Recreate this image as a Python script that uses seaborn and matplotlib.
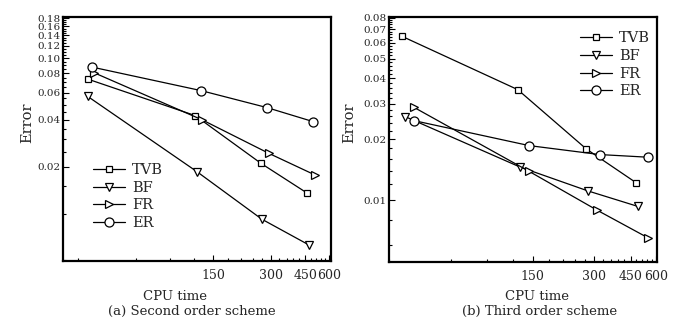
import numpy as np
import pandas as pd
import matplotlib
matplotlib.use("Agg")
import matplotlib.pyplot as plt
import seaborn as sns
from matplotlib.ticker import FixedLocator, FixedFormatter, NullFormatter

# ---- data ----
methods = ["TVB", "BF", "FR", "ER"]

# (a) second order scheme
a_tvb_x = [33.6, 121, 266, 462]
a_tvb_y = [0.0733, 0.0427, 0.0210, 0.0135]
a_bf_x = [33.6, 123.6, 268, 468]
a_bf_y = [0.0567, 0.0186, 0.0092, 0.0063]
a_fr_x = [36.1, 132, 291.5, 506]
a_fr_y = [0.0807, 0.0400, 0.0244, 0.0177]
a_er_x = [35.5, 130, 284.5, 496]
a_er_y = [0.0875, 0.0618, 0.0481, 0.0390]

# (b) third order scheme
b_tvb_x = [34.7, 127, 274, 478]
b_tvb_y = [0.0646, 0.0352, 0.0179, 0.0122]
b_bf_x = [35.9, 129.7, 279, 489]
b_bf_y = [0.0259, 0.0146, 0.0111, 0.0093]
b_fr_x = [39.6, 143.8, 310, 548]
b_fr_y = [0.0288, 0.0139, 0.0089, 0.0065]
b_er_x = [39.9, 144.5, 318, 545]
b_er_y = [0.0247, 0.0186, 0.0168, 0.0163]

x_major = [150, 300, 450, 600]
x_major_labels = ["150", "300", "450", "600"]
a_y_major = [0.02, 0.04, 0.06, 0.08, 0.10, 0.12, 0.14, 0.16, 0.18]
a_y_labels = ["0.02", "0.04", "0.06", "0.08", "0.10", "0.12", "0.14", "0.16", "0.18"]
b_y_major = [0.01, 0.02, 0.03, 0.04, 0.05, 0.06, 0.07, 0.08]
b_y_labels = ["0.01", "0.02", "0.03", "0.04", "0.05", "0.06", "0.07", "0.08"]

captions = ["(a) Second order scheme", "(b) Third order scheme"]


def build(xs, ys):
    rows = []
    for m, x, y in zip(methods, xs, ys):
        for xi, yi in zip(x, y):
            rows.append({"method": m, "cpu": xi, "err": yi})
    return pd.DataFrame(rows)


df_a = build([a_tvb_x, a_bf_x, a_fr_x, a_er_x], [a_tvb_y, a_bf_y, a_fr_y, a_er_y])
df_b = build([b_tvb_x, b_bf_x, b_fr_x, b_er_x], [b_tvb_y, b_bf_y, b_fr_y, b_er_y])

sns.set_theme(style="white")
plt.rcParams["font.family"] = ["DejaVu Serif"]
plt.rcParams["mathtext.fontset"] = "dejavuserif"

fig = plt.figure(figsize=(6.93, 3.31), dpi=100)
W, H = 693, 331
axA = fig.add_axes([63 / W, 1 - 261 / H, (331 - 63) / W, (261 - 17) / H])
axB = fig.add_axes([389 / W, 1 - 262 / H, (657 - 389) / W, (262 - 17) / H])

markers = {"TVB": "s", "BF": "v", "FR": ">", "ER": "o"}
msizes = {"TVB": 5, "BF": 5.5, "FR": 5.5, "ER": 6.5}

for ax, df in [(axA, df_a), (axB, df_b)]:
    for m in methods:
        sub = df[df.method == m]
        sns.lineplot(data=sub, x="cpu", y="err", ax=ax, color="black",
                     marker=markers[m], markersize=msizes[m],
                     markerfacecolor="white", markeredgecolor="black",
                     markeredgewidth=0.9, linewidth=0.9, label=m,
                     estimator=None, sort=False)
    ax.set_xscale("log")
    ax.set_yscale("log")
    ax.set_xlabel("")
    ax.set_ylabel("")
    ax.xaxis.set_major_locator(FixedLocator(x_major))
    ax.xaxis.set_major_formatter(FixedFormatter(x_major_labels))
    xminor = [v for v in range(30, 601, 30) if v not in x_major]
    ax.xaxis.set_minor_locator(FixedLocator(xminor))
    ax.xaxis.set_minor_formatter(NullFormatter())
    for s in ax.spines.values():
        s.set_linewidth(1.6)
        s.set_color("black")
    ax.tick_params(axis="both", which="major", direction="in", length=4.5,
                   width=0.8, color="black", bottom=True, left=True,
                   top=False, right=False)
    ax.tick_params(axis="both", which="minor", direction="in", length=2.5,
                   width=0.8, color="black", bottom=True, left=True,
                   top=False, right=False)
    ax.tick_params(axis="x", which="major", labelsize=9, pad=6)
    ax.tick_params(axis="y", which="major", labelsize=7.5, pad=2)

axA.set_xlim(25, 612)
axA.set_ylim(0.00495, 0.184)
axA.yaxis.set_major_locator(FixedLocator(a_y_major))
axA.yaxis.set_major_formatter(FixedFormatter(a_y_labels))
axA.yaxis.set_minor_locator(FixedLocator([round(0.005 * k, 3) for k in range(1, 37)
                                          if round(0.005 * k, 3) not in a_y_major]))
axA.yaxis.set_minor_formatter(NullFormatter())

axB.set_xlim(30, 605)
axB.set_ylim(0.00494, 0.0805)
axB.yaxis.set_major_locator(FixedLocator(b_y_major))
axB.yaxis.set_major_formatter(FixedFormatter(b_y_labels))
axB.yaxis.set_minor_locator(FixedLocator([round(0.002 * k, 3) for k in range(3, 41)
                                          if round(0.002 * k, 3) not in b_y_major]))
axB.yaxis.set_minor_formatter(NullFormatter())

axA.legend(loc="upper left", bbox_to_anchor=(0.09, 0.425), frameon=False,
           fontsize=10.5, handlelength=2.2, handletextpad=0.5, labelspacing=0.25,
           borderaxespad=0)
axB.legend(loc="upper left", bbox_to_anchor=(0.69, 0.965), frameon=False,
           fontsize=10.5, handlelength=2.2, handletextpad=0.5, labelspacing=0.25,
           borderaxespad=0)

fig.text(175 / W, 1 - 296 / H, "CPU time", ha="center", va="center", fontsize=9.5)
fig.text(192 / W, 1 - 311 / H, captions[0], ha="center", va="center", fontsize=9.5)
fig.text(537 / W, 1 - 296 / H, "CPU time", ha="center", va="center", fontsize=9.5)
fig.text(540 / W, 1 - 311 / H, captions[1], ha="center", va="center", fontsize=9.5)
fig.text(27 / W, 1 - 123 / H, "Error", ha="center", va="center", rotation=90, fontsize=10.5)
fig.text(349 / W, 1 - 123 / H, "Error", ha="center", va="center", rotation=90, fontsize=10.5)

fig.savefig("out.png", dpi=100)
